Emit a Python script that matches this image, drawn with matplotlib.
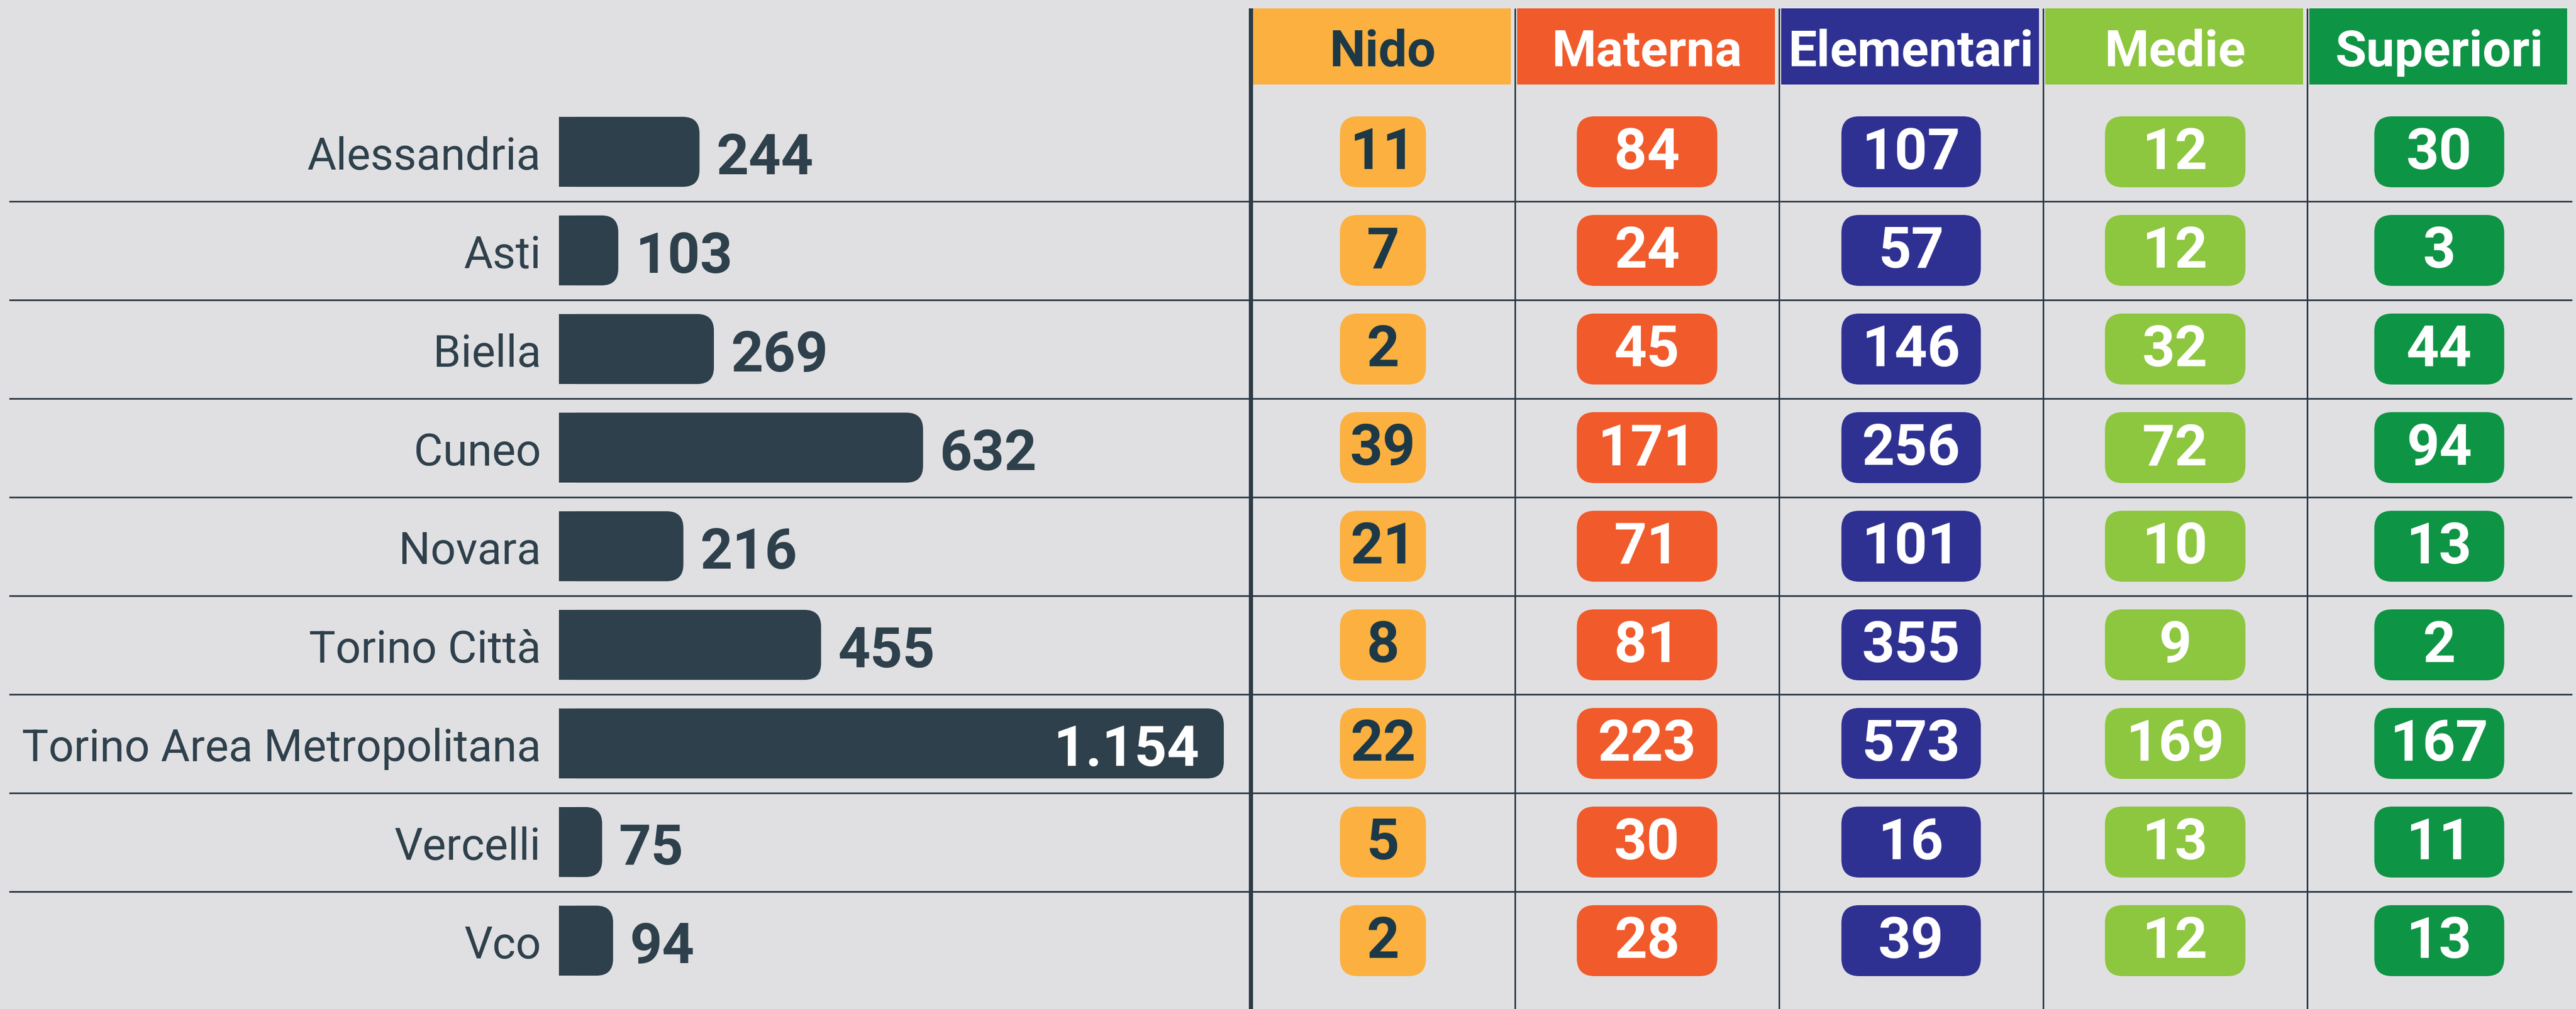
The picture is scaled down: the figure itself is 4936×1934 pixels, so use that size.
import numpy as np
import matplotlib.pyplot as plt
from matplotlib.patches import FancyBboxPatch, Rectangle

# data
cities = ["Alessandria", "Asti", "Biella", "Cuneo", "Novara", "Torino Città",
          "Torino Area Metropolitana", "Vercelli", "Vco"]
totals = [244, 103, 269, 632, 216, 455, 1154, 75, 94]

levels = ["Nido", "Materna", "Elementari", "Medie", "Superiori"]
nido = [11, 7, 2, 39, 21, 8, 22, 5, 2]
materna = [84, 24, 45, 171, 71, 81, 223, 30, 28]
elementari = [107, 57, 146, 256, 101, 355, 573, 16, 39]
medie = [12, 12, 32, 72, 10, 9, 169, 13, 12]
superiori = [30, 3, 44, 94, 13, 2, 167, 11, 13]
table = [nido, materna, elementari, medie, superiori]

# style
BG = "#e0e0e2"
DARK = "#2e404b"
LINE = "#2b3a47"
level_colors = ["#fcb040", "#f15a2b", "#2e3192", "#8dc63f", "#0e9445"]
text_colors = ["#1d3947", "white", "white", "white", "white"]
box_widths = [0.326, 0.532, 0.528, 0.532, 0.492]

W, H, DPI = 4936, 1934, 100
ROW0, PITCH = 291, 189          # px of first row centre, px per row
PX_PER_UNIT = 1.104             # bar scale
BAR_LEFT = 1071
COL_LEFT, COL_W = 2397, 506

plt.rcParams['font.family'] = ['Roboto', 'DejaVu Sans']

fig = plt.figure(figsize=(W / DPI, H / DPI), dpi=DPI, facecolor=BG)
ylim = ((H - ROW0) / PITCH, -ROW0 / PITCH)
rows = np.arange(len(cities))

# ---- bar part ----
ax = fig.add_axes([0, 0, 1, 1])
ax.set_facecolor(BG)
ax.set_xlim(-BAR_LEFT / PX_PER_UNIT, (W - BAR_LEFT) / PX_PER_UNIT)
ax.set_ylim(*ylim)
ax.axis('off')

bars = ax.barh(rows, totals, height=0.71, color=DARK, linewidth=0)
asp = PX_PER_UNIT / PITCH
r = 32 / PX_PER_UNIT
for b in bars:
    x, y, w, h = b.get_x(), b.get_y(), b.get_width(), b.get_height()
    b.set_visible(False)
    rr = min(r, w / 2)
    ax.add_patch(FancyBboxPatch((x, y), w, h, boxstyle=f"round,pad=0,rounding_size={rr}",
                                mutation_aspect=asp, fc=DARK, ec='none', zorder=2))
    ax.add_patch(Rectangle((x, y), rr, h, fc=DARK, ec='none', zorder=2))

for i, (c, v) in enumerate(zip(cities, totals)):
    ax.text(-34 / PX_PER_UNIT, i + 34 / PITCH, c, ha='right', va='baseline',
            fontsize=61.5, color=DARK)
    lab = f"{v:,}".replace(",", ".")
    if v > 1000:
        ax.text(v - 47 / PX_PER_UNIT, i + 43 / PITCH, lab, ha='right', va='baseline',
                fontsize=78, fontweight='bold', color='white', zorder=3)
    else:
        ax.text(v + 32 / PX_PER_UNIT, i + 43 / PITCH, lab, ha='left', va='baseline',
                fontsize=78, fontweight='bold', color=DARK, zorder=3)

# row separators
for i in rows[:-1]:
    ax.axhline(i + 0.5, xmin=19 / W, xmax=4927 / W, color=LINE, lw=2.3, zorder=1)

# ---- table part ----
tx = fig.add_axes([COL_LEFT / W, 0, 5 * COL_W / W, 1])
tx.set_xlim(0, 5)
tx.set_ylim(*ylim)
tx.axis('off')
tx.patch.set_alpha(0)

head_top, head_bot = (16 - ROW0) / PITCH, (162 - ROW0) / PITCH
tx.vlines([0], head_top, ylim[0], color=LINE, lw=5.8, zorder=1, clip_on=False)
tx.vlines([1, 2, 3, 4], head_top, ylim[0], color=LINE, lw=2.2, zorder=1)

tasp = COL_W / PITCH
tr = 34 / COL_W
bh = 136 / PITCH
for j, (lev, vals) in enumerate(zip(levels, table)):
    tx.add_patch(Rectangle((j + 0.008, head_top), 0.976, head_bot - head_top,
                           fc=level_colors[j], ec='none', zorder=2))
    tx.text(j + 0.5, (head_top + head_bot) / 2 + 38 / PITCH, lev, ha='center',
            va='baseline', fontsize=70, fontweight='bold', color=text_colors[j], zorder=3)
    bw = box_widths[j]
    for i, v in enumerate(vals):
        tx.add_patch(FancyBboxPatch((j + 0.5 - bw / 2, i - bh / 2), bw, bh,
                                    boxstyle=f"round,pad=0,rounding_size={tr}",
                                    mutation_aspect=tasp, fc=level_colors[j],
                                    ec='none', zorder=2))
        tx.text(j + 0.5, i + 33 / PITCH, str(v), ha='center', va='baseline',
                fontsize=79, fontweight='bold', color=text_colors[j], zorder=3)

fig.savefig("out.png", dpi=DPI, facecolor=BG)
